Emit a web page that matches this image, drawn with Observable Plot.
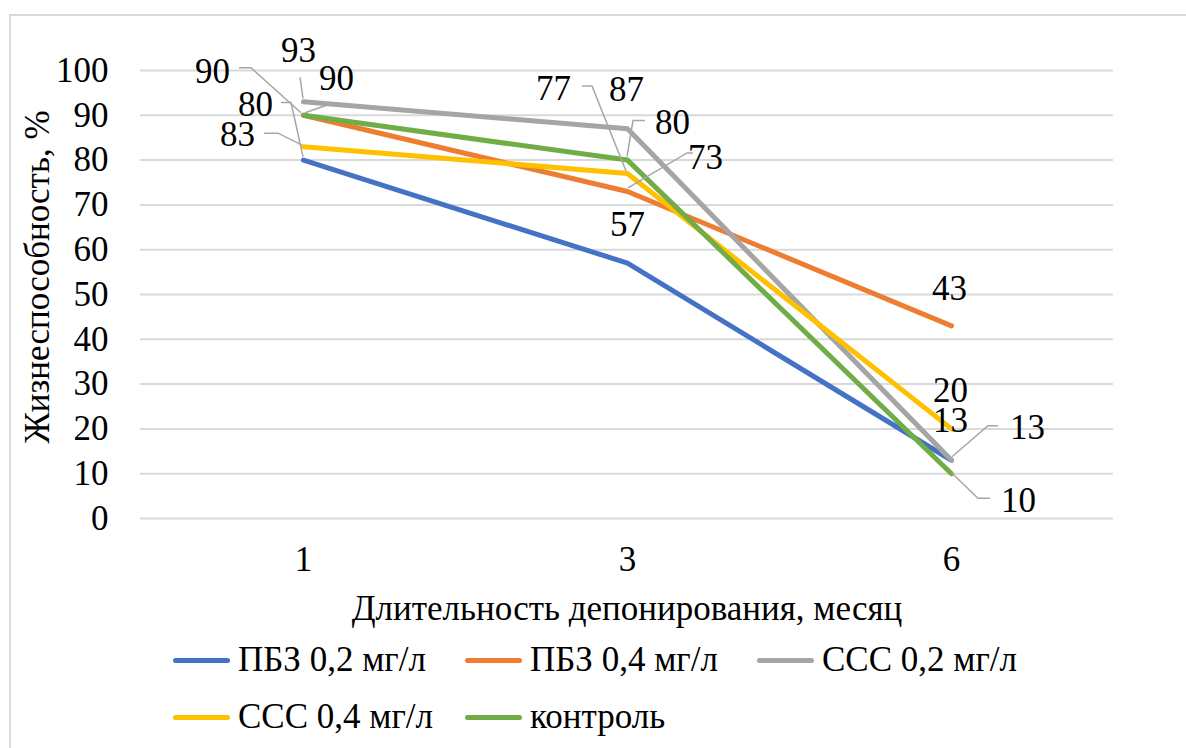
<!DOCTYPE html>
<html><head><meta charset="utf-8">
<script src="https://cdn.jsdelivr.net/npm/d3@7"></script>
<script src="https://cdn.jsdelivr.net/npm/@observablehq/plot@0.6"></script>
<style>
body{margin:0;background:#fff;font-family:'Liberation Serif',Times,'Times New Roman','Nimbus Roman','Nimbus Roman No9 L',FreeSerif,'Noto Serif','DejaVu Serif',serif;}
#wrap{position:relative;width:1186px;height:748px;overflow:hidden;background:#fff;}
#frame{position:absolute;left:9px;top:14px;width:1300px;height:900px;border:2px solid #d9d9d9;box-sizing:border-box;}
#chart{position:absolute;left:0;top:0;}
.li{position:absolute;display:flex;align-items:center;font-size:35px;color:#000;white-space:nowrap;transform:translateY(-50%);font-family:inherit;}
.sw{width:57px;height:5px;border-radius:3px;margin-right:8px;}
svg text{font-family:'Liberation Serif',Times,'Times New Roman','Nimbus Roman','Nimbus Roman No9 L',FreeSerif,'Noto Serif','DejaVu Serif',serif;}
</style></head><body>
<div id="wrap"><div id="frame"></div><div id="chart"></div><div id="legend"></div></div>
<script>
// ---- data ----
const months = ["1", "3", "6"];
const seriesNames = ["ПБЗ 0,2 мг/л", "ПБЗ 0,4 мг/л", "ССС 0,2 мг/л", "ССС 0,4 мг/л", "контроль"];
const pbz02 = [80, 57, 13];
const pbz04 = [90, 73, 43];
const ccc02 = [93, 87, 13];
const ccc04 = [83, 77, 20];
const control = [90, 80, 10];
const yTicks = [0, 10, 20, 30, 40, 50, 60, 70, 80, 90, 100];
const yTitle = "Жизнеспособность, %";
const xTitle = "Длительность депонирования, месяц";
const colors = ["#4472C4", "#ED7D31", "#A5A5A5", "#FFC000", "#70AD47"];

const seriesValues = [pbz02, pbz04, ccc02, ccc04, control];
const data = [];
seriesNames.forEach((s, i) => months.forEach((m, j) => data.push({series: s, month: m, value: seriesValues[i][j]})));

// ---- label layout (pixel offsets from each point) ----
const labelLayout = [
  {s: 0, m: 0, dx: -48, dy: -55, leader: [[-22, -57], [-12, -57], [0, -3]]},
  {s: 1, m: 0, dx: 33, dy: -37, leader: [[25, -10], [2, -2]]},
  {s: 2, m: 0, dx: -5, dy: -51, leader: [[-3, -24], [0, -3]]},
  {s: 3, m: 0, dx: -66, dy: -12, leader: [[-39, -13], [-25, -13], [-1, -1]]},
  {s: 4, m: 0, dx: -91, dy: -44, leader: [[-64, -47], [-52, -47], [-2, -2]]},
  {s: 0, m: 1, dx: 0, dy: -38},
  {s: 1, m: 1, dx: 78, dy: -34, leader: [[66, -38], [60, -38], [1, -3]]},
  {s: 2, m: 1, dx: -1, dy: -39},
  {s: 3, m: 1, dx: -74, dy: -85, leader: [[-45, -87], [-35, -87], [-1, -2]]},
  {s: 4, m: 1, dx: 45, dy: -37, leader: [[18, -39], [6, -39], [0, -3]]},
  {s: 0, m: 2, dx: -1, dy: -39},
  {s: 1, m: 2, dx: -2, dy: -37},
  {s: 2, m: 2, dx: 76, dy: -32, leader: [[47, -34], [37, -34], [1, -3]]},
  {s: 3, m: 2, dx: -1, dy: -38},
  {s: 4, m: 2, dx: 67, dy: 27, leader: [[39, 25], [27, 25], [1, 0]]}
];

const font = "'Liberation Serif',Times,'Times New Roman','Nimbus Roman',FreeSerif,'Noto Serif','DejaVu Serif',serif";
const labelMarks = labelLayout.map(L => Plot.text(
  [{month: months[L.m], value: seriesValues[L.s][L.m]}],
  {x: "month", y: "value", text: d => String(d.value), dx: L.dx, dy: L.dy,
   fontSize: 35, fill: "#000", textAnchor: "middle", lineAnchor: "middle"}
));

const chart = Plot.plot({
  width: 1186, height: 640,
  marginLeft: 140, marginRight: 73, marginTop: 70, marginBottom: 122,
  style: {fontFamily: font, fontSize: "35px", background: "transparent", color: "#000", overflow: "visible"},
  x: {type: "point", domain: months, padding: 0.5, label: null},
  y: {domain: [0, 100], label: null},
  color: {domain: seriesNames, range: colors},
  marks: [
    Plot.gridY(yTicks, {stroke: "#d9d9d9", strokeOpacity: 1, strokeWidth: 2}),
    Plot.axisY(yTicks, {tickSize: 0, tickPadding: 32, label: null, fontSize: 35}),
    Plot.axisX(months, {tickSize: 0, tickPadding: 28, label: null, fontSize: 35}),
    Plot.line(data, {x: "month", y: "value", z: "series", stroke: "series", strokeWidth: 5,
      strokeLinecap: "round", strokeLinejoin: "round"}),
    ...labelMarks,
    Plot.text([xTitle], {frameAnchor: "bottom", dy: 90, fontSize: 35, fill: "#000", lineAnchor: "middle"})
  ]
});
document.getElementById("chart").appendChild(chart);

// y-axis title
d3.select(chart).append("text")
  .attr("transform", "translate(37,277) rotate(-90)")
  .attr("text-anchor", "middle").attr("dominant-baseline", "central")
  .attr("font-size", 35).attr("fill", "#000").text(yTitle);

// leader lines via the plot's scales
const sx = chart.scale("x"), sy = chart.scale("y");
const g = d3.select(chart).append("g").attr("fill", "none").attr("stroke", "#a6a6a6").attr("stroke-width", 1.5);
labelLayout.filter(L => L.leader).forEach(L => {
  const px = sx.apply(months[L.m]), py = sy.apply(seriesValues[L.s][L.m]);
  g.append("path").attr("d", d3.line()(L.leader.map(([a, b]) => [px + a, py + b])));
});

// legend
const legendPos = [[173, 660], [465, 660], [757, 660], [173, 717], [465, 717]];
const leg = document.getElementById("legend");
seriesNames.forEach((s, i) => {
  const d = document.createElement("div");
  d.className = "li";
  d.style.left = legendPos[i][0] + "px";
  d.style.top = legendPos[i][1] + "px";
  d.innerHTML = `<span class="sw" style="background:${colors[i]}"></span><span>${s}</span>`;
  leg.appendChild(d);
});
</script>
</body></html>
